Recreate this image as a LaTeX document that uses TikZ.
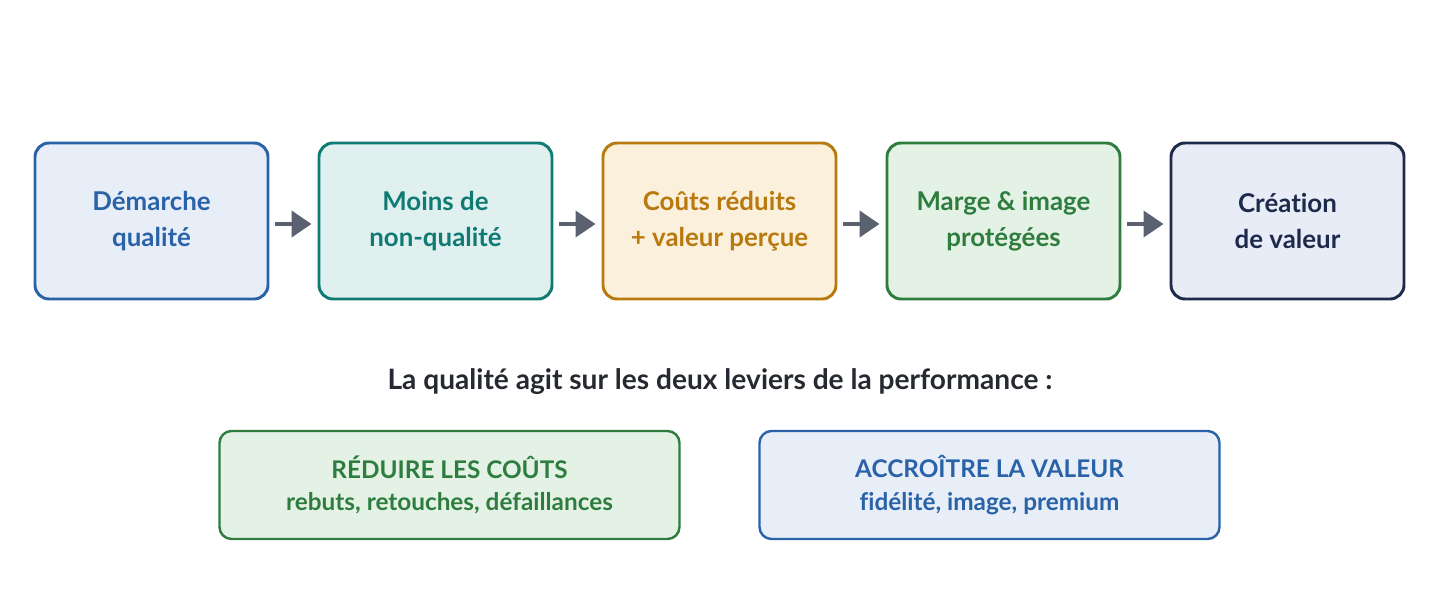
\documentclass[tikz,border=0pt]{standalone}
\usepackage{fontspec}
\setmainfont[Ligatures=NoCommon]{Lato}
\usetikzlibrary{arrows.meta,positioning}
\definecolor{bluB}{HTML}{2A62A8}\definecolor{bluF}{HTML}{E7EEF8}
\definecolor{tealB}{HTML}{107A74}\definecolor{tealF}{HTML}{DFF0EF}
\definecolor{orB}{HTML}{B8790E}\definecolor{orF}{HTML}{FBF0DB}
\definecolor{grB}{HTML}{2E7D3F}\definecolor{grF}{HTML}{E3F2E5}
\definecolor{navB}{HTML}{1D2A4C}\definecolor{navF}{HTML}{E8ECF6}
\definecolor{arr}{HTML}{5A6270}
\definecolor{ink}{HTML}{262A30}
\tikzset{
  step/.style={draw=#1B,fill=#1F,text=#1B,line width=2.1pt,rounded corners=3.5mm,
    minimum width=58.25mm,minimum height=39mm,align=center,
    font=\bfseries\fontsize{18.4}{25.5}\selectfont},
  lever/.style={draw=#1B,fill=#1F,text=#1B,line width=1.7pt,rounded corners=3mm,
    minimum width=115mm,minimum height=27mm,align=center,
    font=\bfseries\fontsize{17.3}{23}\selectfont},
  flow/.style={-{Triangle[length=5mm,width=6.5mm]},arr,line width=1mm}
}
\begin{document}
\begin{tikzpicture}[x=0.25mm,y=-0.25mm]
  \useasboundingbox (0,0) rectangle (1440,600);
  % chain
  \node[step=blu]  (demarche) at (151.5,221) {Démarche\\qualité};
  \node[step=teal] (moins)    at (435.5,221) {Moins de\\non-qualité};
  \node[step=or]   (couts)    at (719.5,221) {Coûts réduits\\+ valeur perçue};
  \node[step=gr]   (marge)    at (1003.5,221) {Marge \& image\\protégées};
  \node[step=nav]  (creation) at (1287.5,221) {Création\\de valeur};
  \foreach \a/\b in {demarche/moins,moins/couts,couts/marge,marge/creation}
    \draw[flow] ([xshift=1.5mm,yshift=-0.75mm]\a.east) -- ([xshift=-1.5mm,yshift=-0.75mm]\b.west);
  % levers
  \node[font=\bfseries\fontsize{20}{24}\selectfont,text=ink] (titre) at (720,382)
    {La qualité agit sur les deux leviers de la performance :};
  \node[lever=gr]  (reduire)   at (449.5,485) {RÉDUIRE LES COÛTS\\rebuts, retouches, défaillances};
  \node[lever=blu] (accroitre) at (989.5,485) {ACCROÎTRE LA VALEUR\\fidélité, image, premium};
\end{tikzpicture}
\end{document}
